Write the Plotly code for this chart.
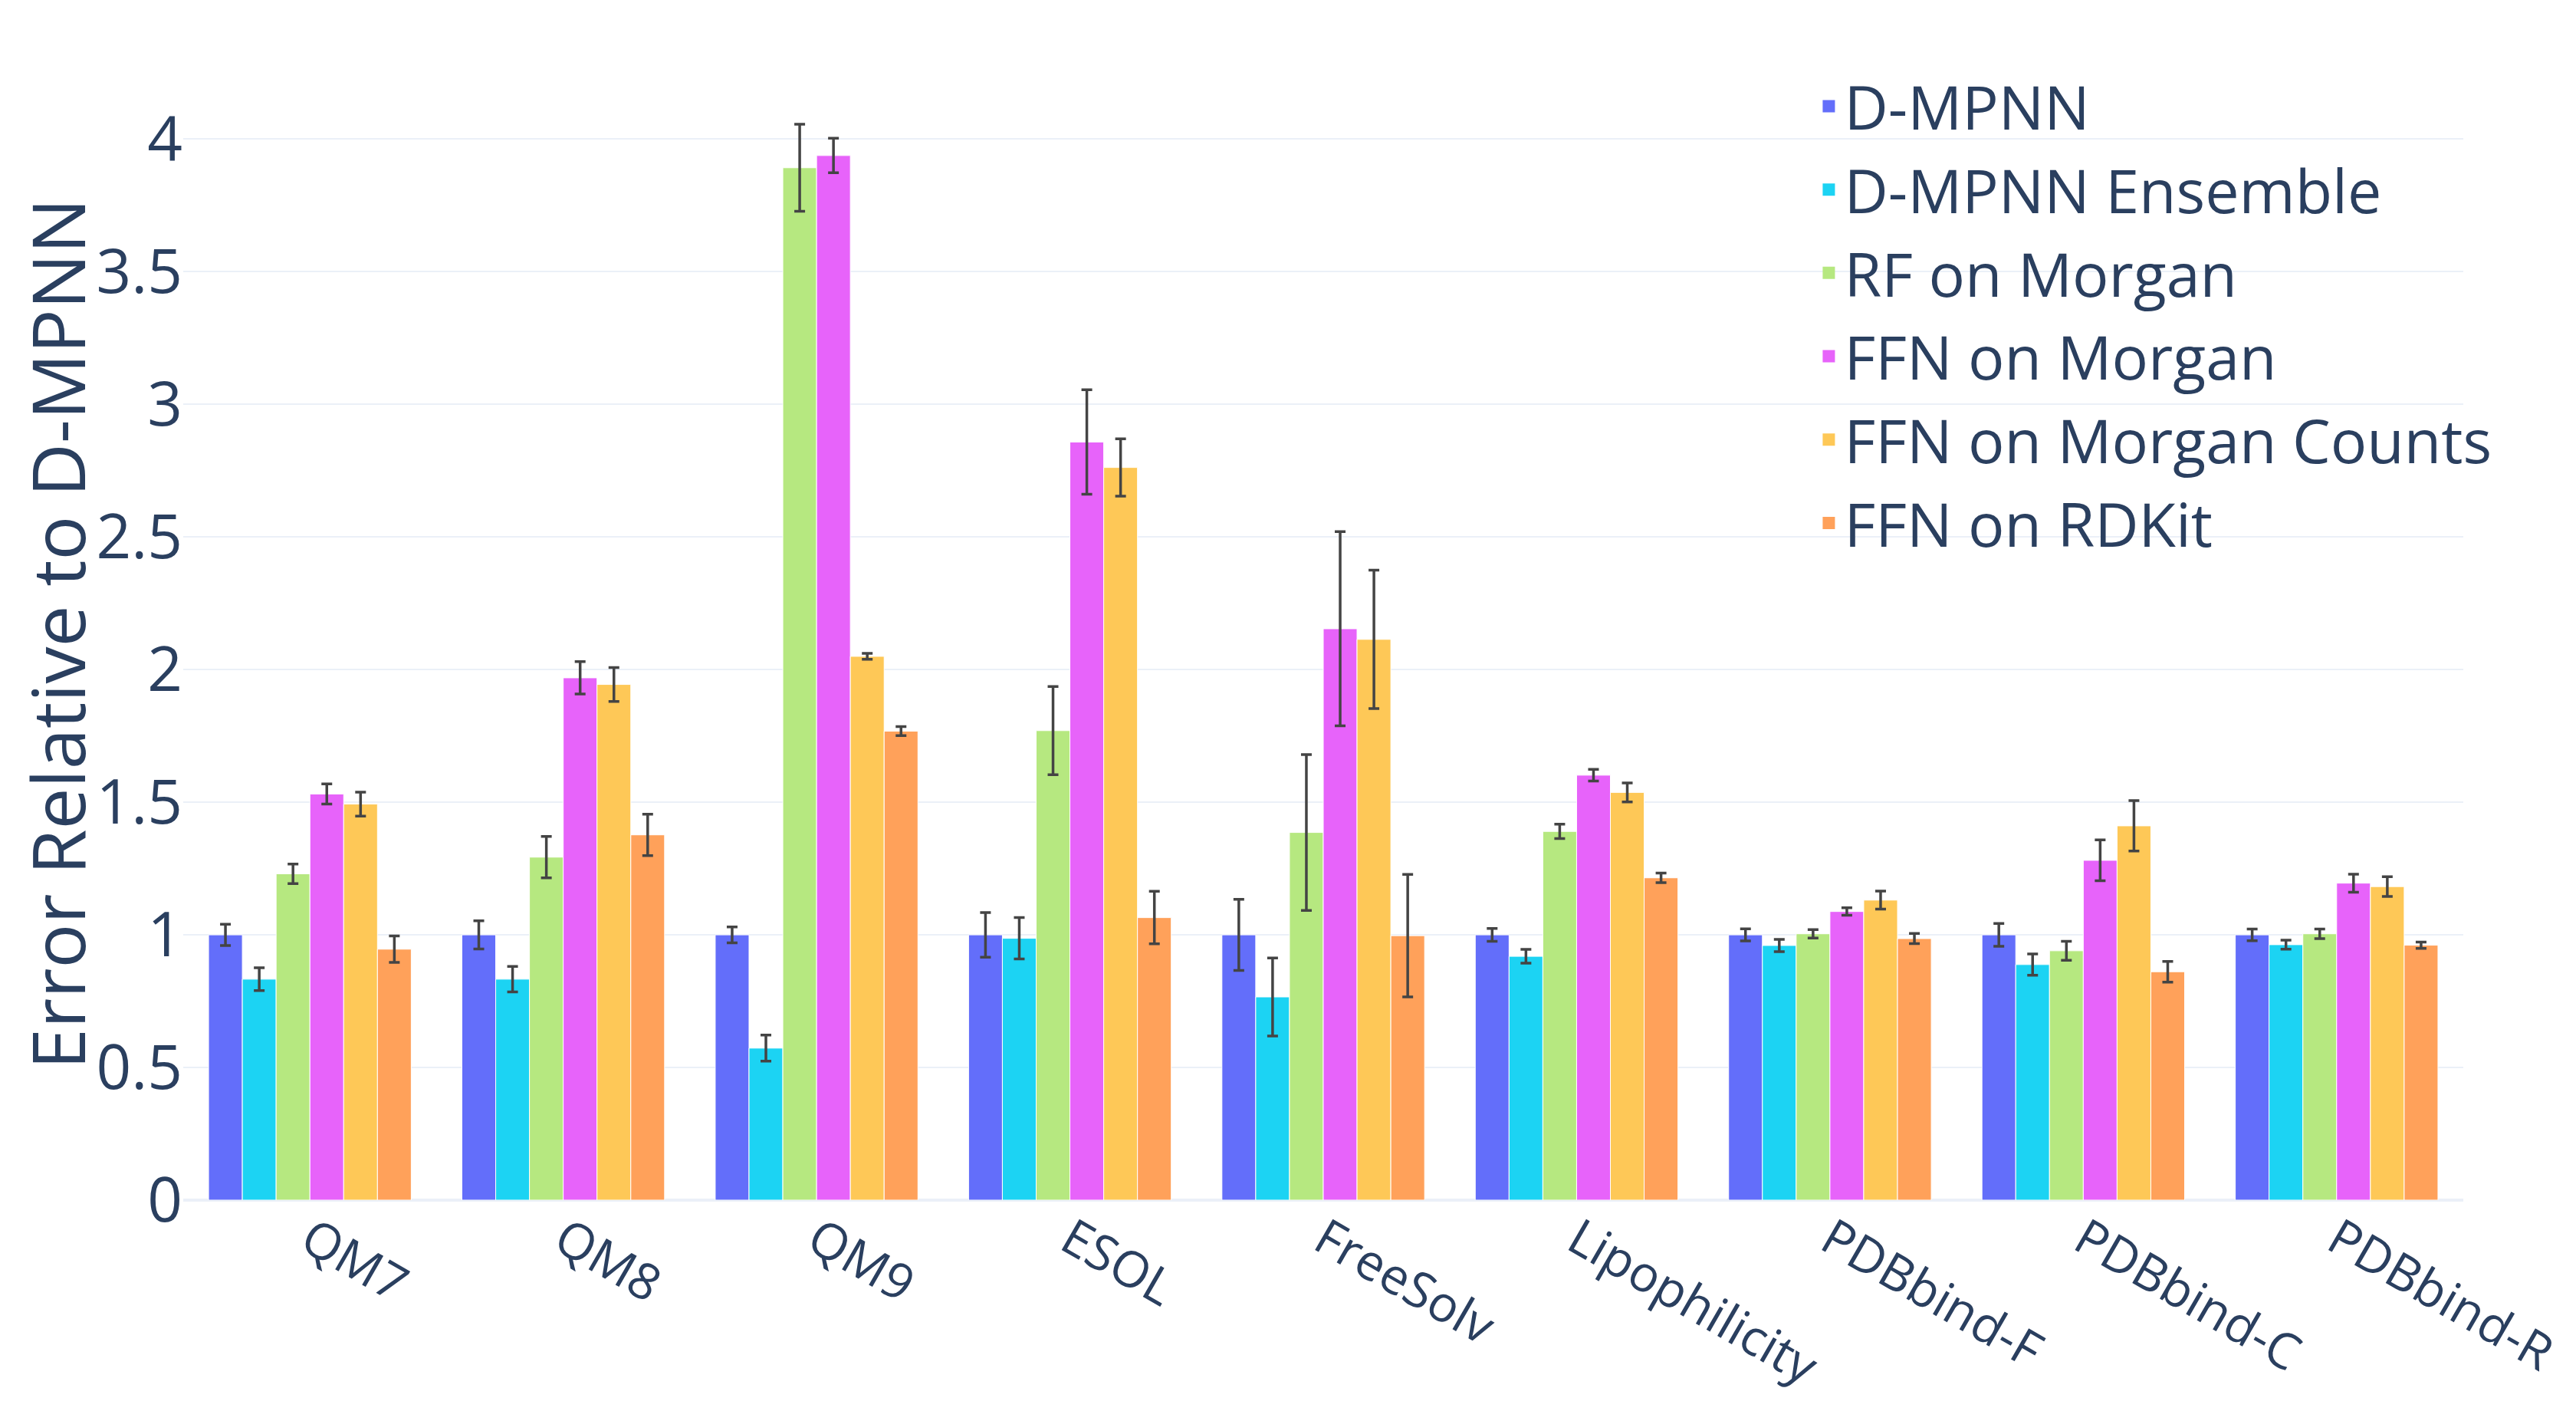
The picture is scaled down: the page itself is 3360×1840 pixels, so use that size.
import plotly.graph_objects as go

datasets = ["QM7", "QM8", "QM9", "ESOL", "FreeSolv", "Lipophilicity",
            "PDBbind-F", "PDBbind-C", "PDBbind-R"]

models = ["D-MPNN", "D-MPNN Ensemble", "RF on Morgan", "FFN on Morgan",
          "FFN on Morgan Counts", "FFN on RDKit"]

colors = ["#636EFA", "#1CD3F3", "#B6E880", "#E763FA", "#FEC857", "#FFA15A"]

# relative error per model, one value per dataset
dmpnn = [1.0, 1.0, 1.0, 1.0, 1.0, 1.0, 1.0, 1.0, 1.0]
dmpnn_err = [0.04, 0.053, 0.03, 0.084, 0.134, 0.024, 0.023, 0.043, 0.022]

ensemble = [0.833, 0.833, 0.573, 0.987, 0.766, 0.919, 0.96, 0.888, 0.963]
ensemble_err = [0.043, 0.048, 0.049, 0.078, 0.147, 0.026, 0.023, 0.04, 0.017]

rf_morgan = [1.23, 1.293, 3.892, 1.77, 1.386, 1.39, 1.004, 0.94, 1.004]
rf_morgan_err = [0.037, 0.078, 0.164, 0.166, 0.294, 0.027, 0.016, 0.036, 0.018]

ffn_morgan = [1.531, 1.969, 3.938, 2.858, 2.154, 1.602, 1.088, 1.281, 1.195]
ffn_morgan_err = [0.038, 0.061, 0.065, 0.197, 0.366, 0.022, 0.014, 0.077, 0.034]

ffn_counts = [1.493, 1.944, 2.05, 2.762, 2.114, 1.537, 1.131, 1.411, 1.182]
ffn_counts_err = [0.045, 0.064, 0.011, 0.108, 0.261, 0.036, 0.034, 0.095, 0.037]

ffn_rdkit = [0.946, 1.377, 1.768, 1.065, 0.997, 1.215, 0.986, 0.861, 0.961]
ffn_rdkit_err = [0.05, 0.078, 0.017, 0.099, 0.231, 0.018, 0.019, 0.039, 0.012]

values = [dmpnn, ensemble, rf_morgan, ffn_morgan, ffn_counts, ffn_rdkit]
errors = [dmpnn_err, ensemble_err, rf_morgan_err, ffn_morgan_err,
          ffn_counts_err, ffn_rdkit_err]

fig = go.Figure()

for name, color, y, err in zip(models, colors, values, errors):
    fig.add_trace(go.Bar(
        name=name,
        x=datasets,
        y=y,
        legendgroup=name,
        showlegend=False,
        marker=dict(color=color, line=dict(color="white", width=1)),
        error_y=dict(type="data", array=err, visible=True,
                     color="#444", thickness=3.5, width=7),
    ))

# legend entries with larger square swatches
for name, color in zip(models, colors):
    fig.add_trace(go.Scatter(
        name=name,
        x=[None], y=[None],
        mode="markers",
        legendgroup=name,
        marker=dict(symbol="square", size=16, color=color, line=dict(width=0)),
    ))

fig.update_layout(
    template="plotly_white",
    width=3360, height=1840,
    margin=dict(l=231, r=155, t=80, b=283),
    font=dict(family="Open Sans", size=80, color="#2a3f5f"),
    barmode="group",
    bargap=0.2,
    bargroupgap=0,
    legend=dict(
        x=0.715, y=1.005, xanchor="left", yanchor="top",
        bgcolor="rgba(0,0,0,0)",
        font=dict(size=79),
        tracegroupgap=3,
    ),
)

fig.update_xaxes(tickangle=30, tickfont=dict(size=65), showgrid=False,
                 automargin=False)
fig.update_yaxes(
    range=[0, 4.27],
    dtick=0.5,
    automargin=False,
    tickfont=dict(size=80),
    title=dict(text="Error Relative to D-MPNN", font=dict(size=96), standoff=0),
    gridcolor="#EBF0F8", gridwidth=2,
    zerolinecolor="#EBF0F8", zerolinewidth=4,
)

fig.write_html("out.html")
